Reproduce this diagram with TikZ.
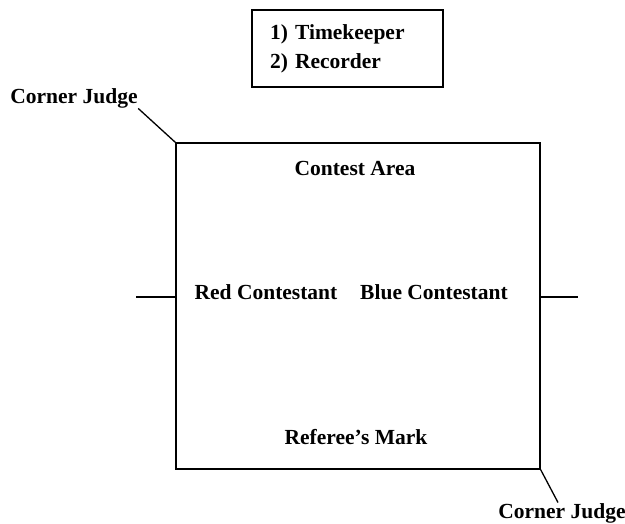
\documentclass[tikz,border=0pt]{standalone}
\usepackage{fontspec}
\setmainfont{Liberation Serif}
\usetikzlibrary{positioning}

\begin{document}
\begin{tikzpicture}[x=1pt,y=1pt]
\tikzset{
    every node/.style = {font=\fontsize{21.5}{29}\selectfont\bfseries},
    every path/.style = {line width=1.3pt},
    label/.style = {inner sep=0pt},
    boxed/.style = {draw, rectangle, inner sep=0pt}
}
\useasboundingbox (0,0) rectangle (625,524);

% -------------------------------------------------------
\node[boxed, minimum width=364, minimum height=326] (area) at (358,218) {};

\node[boxed, minimum width=191, minimum height=77, align=left,
      text width=155, inner xsep=18] (staff) at (347.5,475.5) {
    1) Timekeeper \\
    2) Recorder
};

\node[label] (contest) at (355,356) {Contest Area};
\node[label] (red) at (266,232) {Red Contestant};
\node[label] (blue) at (434,232) {Blue Contestant};
\node[label] (mark) at (356,87) {Referee’s Mark};

\node[label] (cjtop) at (74,426) {Corner Judge};
\node[label] (cjbot) at (562,11) {Corner Judge};

\coordinate (lend) at (136,227);
\coordinate (rend) at (578,227);

% -------------------------------------------------------
\path[-] (cjtop.south east) edge (area.north west);
\path[-] (area.south east) edge ([xshift=-4pt]cjbot.north);

\path[-] (lend) edge (area.west |- lend);
\path[-] (area.east |- rend) edge (rend);
\end{tikzpicture}
\end{document}
